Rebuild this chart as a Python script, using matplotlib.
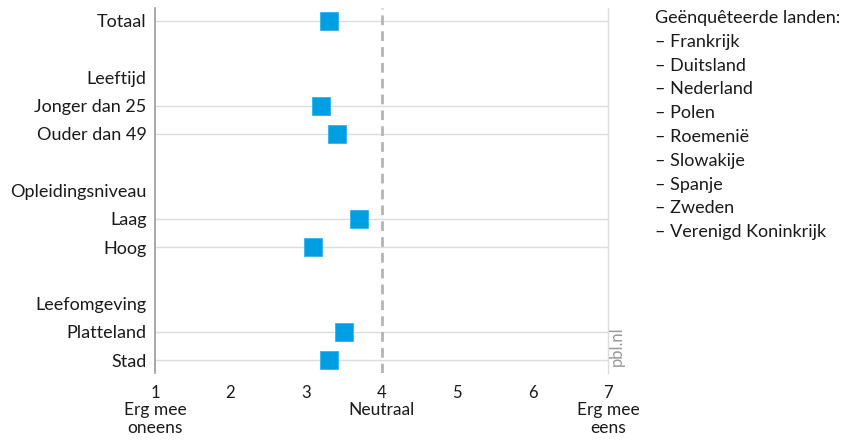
import matplotlib
matplotlib.use("Agg")
import matplotlib.pyplot as plt

plt.rcParams['font.family'] = ['Lato', 'DejaVu Sans']

rows = ["Totaal", "", "Leeftijd", "Jonger dan 25", "Ouder dan 49", "",
        "Opleidingsniveau", "Laag", "Hoog", "", "Leefomgeving", "Platteland", "Stad"]
categories = ["Totaal", "Jonger dan 25", "Ouder dan 49", "Laag", "Hoog", "Platteland", "Stad"]
values = [3.30, 3.20, 3.41, 3.70, 3.09, 3.50, 3.30]
xticks = [1, 2, 3, 4, 5, 6, 7]
anchor_labels = {1: "Erg mee\noneens", 4: "Neutraal", 7: "Erg mee\neens"}
countries = ["Frankrijk", "Duitsland", "Nederland", "Polen", "Roemenië",
             "Slowakije", "Spanje", "Zweden", "Verenigd Koninkrijk"]

fig = plt.figure(figsize=(8.41, 4.45), dpi=100)
ax = fig.add_axes([155/841, 1-373/445, (608-155)/841, (373-8)/445])

ypos = [rows.index(c) for c in categories]
for y in ypos:
    ax.axhline(y, color="#dcdcdc", lw=1, zorder=1)
ax.axvline(4, color="#b4b4b4", lw=2, ls=(0, (3.5, 2.2)), zorder=1)
ax.plot(values, ypos, ls="none", marker="s", markersize=13, color="#009fe3",
        markeredgecolor="#33b2e8", markeredgewidth=0.6, zorder=3)

ax.set_xlim(1, 7)
ax.set_ylim(len(rows) - 1 + 0.46, -0.46)
ax.set_yticks(range(len(rows)))
ax.set_yticklabels(rows, fontsize=13, color="#1a1a1a")
ax.set_xticks(xticks)
ax.set_xticklabels([str(t) for t in xticks], fontsize=12, color="#1a1a1a")
ax.tick_params(axis="both", length=0)
ax.tick_params(axis="y", pad=6)
ax.tick_params(axis="x", pad=9)

for s in ["top", "bottom"]:
    ax.spines[s].set_visible(False)
ax.spines["left"].set_color("#999999")
ax.spines["left"].set_linewidth(1.2)
ax.spines["right"].set_color("#dcdcdc")
ax.spines["right"].set_linewidth(1)

for x, lab in anchor_labels.items():
    ax.annotate(lab, xy=(x, 0), xycoords=("data", "axes fraction"),
                xytext=(0, -21), textcoords="offset points", ha="center", va="top",
                fontsize=12.5, color="#1a1a1a", linespacing=1.15)

fig.text(617/841, 1-346/445, "pbl.nl", rotation=90, ha="center", va="center",
         fontsize=12, color="#999999")

legend_text = "Geënquêteerde landen:\n" + "\n".join("– " + c for c in countries)
fig.text(655/841, 1-10/445, legend_text, ha="left", va="top", fontsize=13,
         color="#1a1a1a", linespacing=1.6)

fig.savefig("out.png", dpi=100, facecolor="white")
